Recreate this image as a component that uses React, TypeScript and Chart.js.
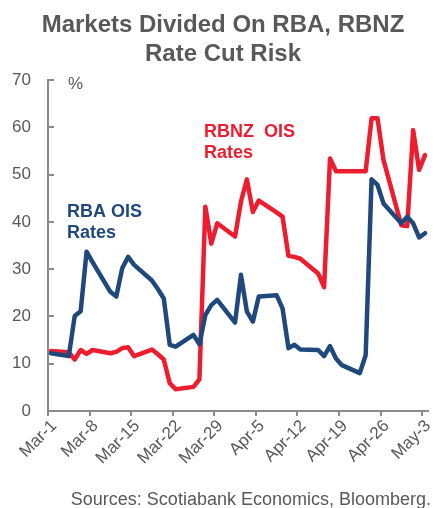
import React, { useEffect, useRef } from "react";
import { Chart, registerables } from "chart.js";

Chart.register(...registerables);

// ---- data ----
const tickDays = [0, 7, 14, 21, 28, 35, 42, 49, 56, 63];
const tickLabels = ["Mar-1", "Mar-8", "Mar-15", "Mar-22", "Mar-29", "Apr-5", "Apr-12", "Apr-19", "Apr-26", "May-3"];

// business days, as day offsets from Mar-1
const dayOffsets = [
  0, 3, 4, 5, 6, 7, 10, 11, 12, 13, 14, 17, 18, 19, 20, 21, 24, 25, 26, 27, 28,
  31, 32, 33, 34, 35, 38, 39, 40, 41, 42, 45, 46, 47, 48, 49, 52, 53, 54, 55, 56,
  59, 60, 61, 62, 63,
];

const rbaValues = [
  12.2, 11.6, 20.1, 21.1, 33.7, 31.5, 25.2, 24.2, 30.2, 32.6, 30.9, 27.6, 25.8, 23.8, 14.0, 13.6,
  16.1, 14.1, 20.3, 22.4, 23.5, 18.7, 28.8, 21.0, 18.9, 24.2, 24.5, 21.7, 13.3, 14.0, 13.0,
  12.9, 11.6, 13.7, 11.1, 9.7, 8.0, 11.8, 49.0, 47.8, 43.9, 39.7, 41.1, 39.7, 36.7, 37.6,
];

const rbnzValues = [
  12.7, 12.4, 10.9, 12.9, 12.1, 12.9, 12.2, 12.5, 13.3, 13.5, 11.6, 13.0, 12.0, 10.9, 5.9, 4.6,
  5.1, 6.7, 43.2, 35.4, 39.7, 36.9, 44.3, 49.0, 42.1, 44.5, 42.0, 41.1, 32.8, 32.6, 32.2,
  29.1, 26.2, 53.4, 50.7, 50.7, 50.7, 50.7, 61.9, 61.9, 53.1, 39.3, 39.1, 59.4, 51.0, 54.1,
];

const yTicks = [0, 10, 20, 30, 40, 50, 60, 70];

const titleLines = ["Markets Divided On RBA, RBNZ", "Rate Cut Risk"];
const rbaLabel = ["RBA OIS", "Rates"];
const rbnzLabel = ["RBNZ  OIS", "Rates"];
const unitLabel = "%";
const sourceText = "Sources: Scotiabank Economics, Bloomberg.";

// ---- styles ----
const FONT = "'Liberation Sans', Arial, Helvetica, sans-serif";
const GREY_TEXT = "#595959";
const AXIS = "#8c8c8c";
const BLUE = "#1F497D";
const RED = "#ED1C2E";

export default function App() {
  const ref = useRef<HTMLCanvasElement | null>(null);

  useEffect(() => {
    if (!ref.current) return;

    const decor = {
      id: "decor",
      beforeDatasetsDraw(chart: any) {
        const { ctx, chartArea, scales } = chart;
        ctx.save();
        ctx.strokeStyle = AXIS;
        ctx.lineWidth = 2;
        // inward y ticks
        yTicks.forEach((v) => {
          if (v === 0) return;
          const y = Math.round(scales.y.getPixelForValue(v));
          ctx.beginPath();
          ctx.moveTo(chartArea.left, y);
          ctx.lineTo(chartArea.left + 6, y);
          ctx.stroke();
        });
        ctx.restore();
      },
      afterDraw(chart: any) {
        const { ctx } = chart;
        ctx.save();
        // title
        ctx.fillStyle = GREY_TEXT;
        ctx.font = `bold 24px ${FONT}`;
        ctx.textAlign = "center";
        ctx.textBaseline = "alphabetic";
        ctx.fillText(titleLines[0], 223, 32);
        ctx.fillText(titleLines[1], 223, 61);
        // unit
        ctx.font = `17px ${FONT}`;
        ctx.textAlign = "left";
        ctx.fillText(unitLabel, 68, 89);
        // series labels
        ctx.font = `bold 18px ${FONT}`;
        ctx.fillStyle = BLUE;
        ctx.fillText(rbaLabel[0], 67, 217);
        ctx.fillText(rbaLabel[1], 67, 238);
        ctx.fillStyle = RED;
        ctx.fillText(rbnzLabel[0], 204, 137);
        ctx.fillText(rbnzLabel[1], 204, 158);
        // source
        ctx.fillStyle = GREY_TEXT;
        ctx.font = `18px ${FONT}`;
        ctx.textAlign = "right";
        ctx.fillText(sourceText, 431, 505);
        ctx.restore();
      },
    };

    // points are plotted at the middle of each day's slot (Excel "between tick marks")
    const toPoints = (vals: number[]) => dayOffsets.map((d, i) => ({ x: d + 0.5, y: vals[i] }));

    const chart = new Chart(ref.current, {
      type: "line",
      data: {
        datasets: [
          {
            label: "RBA OIS Rates",
            data: toPoints(rbaValues),
            borderColor: BLUE,
            backgroundColor: BLUE,
            borderWidth: 4.5,
            borderJoinStyle: "round",
            borderCapStyle: "round",
            pointRadius: 0,
            tension: 0,
          },
          {
            label: "RBNZ OIS Rates",
            data: toPoints(rbnzValues),
            borderColor: RED,
            backgroundColor: RED,
            borderWidth: 4.5,
            borderJoinStyle: "round",
            borderCapStyle: "round",
            pointRadius: 0,
            tension: 0,
          },
        ],
      },
      options: {
        animation: false,
        responsive: false,
        devicePixelRatio: 1,
        layout: { padding: { top: 80, right: 17, left: 0, bottom: 0 } },
        plugins: {
          legend: { display: false },
          tooltip: { enabled: false },
          title: { display: false },
        },
        scales: {
          x: {
            type: "linear",
            min: 0,
            max: 64,
            afterBuildTicks: (s: any) => {
              s.ticks = tickDays.map((v) => ({ value: v }));
            },
            afterFit: (s: any) => {
              s.height = 97;
            },
            ticks: {
              autoSkip: false,
              minRotation: 45,
              maxRotation: 45,
              padding: 0,
              labelOffset: 6,
              color: GREY_TEXT,
              font: { family: FONT, size: 17 },
              callback: (v: any) => {
                const i = tickDays.indexOf(Number(v));
                return i >= 0 ? tickLabels[i] : "";
              },
            },
            grid: {
              drawOnChartArea: false,
              drawTicks: true,
              tickLength: 5,
              color: AXIS,
              lineWidth: 2,
            },
            border: { display: true, color: AXIS, width: 2 },
          },
          y: {
            min: 0,
            max: 70,
            afterBuildTicks: (s: any) => {
              s.ticks = yTicks.map((v) => ({ value: v }));
            },
            afterFit: (s: any) => {
              s.width = 48;
            },
            ticks: {
              padding: 17,
              color: GREY_TEXT,
              font: { family: FONT, size: 17 },
            },
            grid: { drawOnChartArea: false, drawTicks: false },
            border: { display: true, color: AXIS, width: 2 },
          },
        },
      },
      plugins: [decor],
    });

    return () => chart.destroy();
  }, []);

  return (
    <div style={{ position: "absolute", left: 0, top: 0, width: 445, height: 508, background: "#fff" }}>
      <canvas ref={ref} width={445} height={508} style={{ width: 445, height: 508 }} />
    </div>
  );
}
